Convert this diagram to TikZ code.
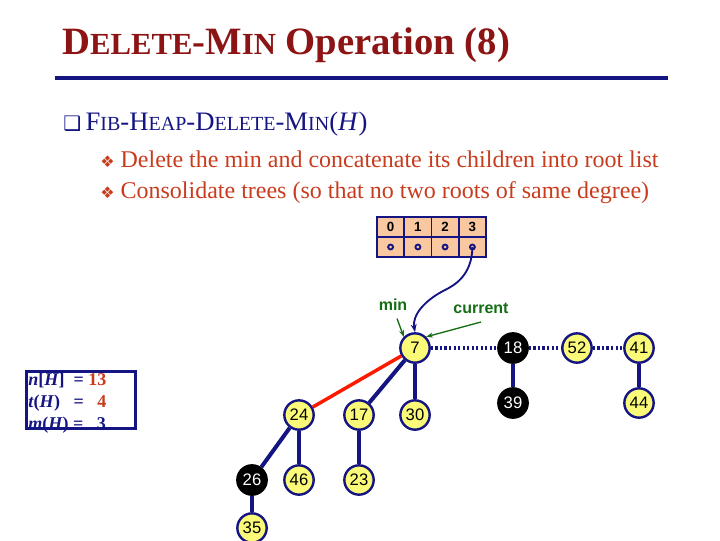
\documentclass[tikz,border=0pt]{standalone}
\usepackage{fontspec}
\setmainfont{Liberation Serif}
\setsansfont{Liberation Sans}
\newfontfamily\dvs{DejaVu Sans}
\usetikzlibrary{arrows.meta}
\definecolor{navy}{RGB}{20,20,130}
\definecolor{dred}{RGB}{140,20,20}
\definecolor{tred}{RGB}{200,60,30}
\definecolor{nyel}{RGB}{250,250,120}
\definecolor{cellc}{RGB}{250,200,160}
\definecolor{dgreen}{RGB}{20,110,20}
\newcommand{\sck}[1]{{\fontsize{15pt}{15pt}\selectfont #1}}
\newcommand{\scm}[1]{{\fontsize{23pt}{23pt}\selectfont #1}}
\tikzset{
 hn/.style={circle,draw=navy,line width=1.8pt,fill=nyel,minimum size=22pt,inner sep=0pt,font=\sffamily\fontsize{12.5pt}{12.5pt}\selectfont},
 bn/.style={hn,fill=black,draw=black,text=white},
 tl/.style={navy,line width=3pt},
 rl/.style={navy,line width=2.6pt,dash pattern=on 1.6pt off 1.8pt},
 cell/.style={draw=navy,line width=1.2pt,fill=cellc,minimum width=20.25pt,minimum height=15pt,inner sep=0pt,font=\sffamily\bfseries\fontsize{10pt}{10pt}\selectfont},
 gl/.style={dgreen,font=\sffamily\bfseries\fontsize{12pt}{12pt}\selectfont}
}
\begin{document}
\begin{tikzpicture}[x=0.75pt,y=-0.75pt]
\useasboundingbox (0,0) rectangle (720,540);
\node[anchor=west,dred,font=\bfseries\fontsize{29pt}{29pt}\selectfont,inner sep=0pt] (title) at (62,45) {D\scm{ELETE}-M\scm{IN} Operation (8)};
\draw[navy,line width=3pt] (55,78) -- (668,78);
\node[anchor=west,navy,font=\fontsize{20pt}{20pt}\selectfont,inner sep=0pt] (h1) at (63,124) {{\dvs\fontsize{15pt}{15pt}\selectfont ❑}\,F\sck{IB}-H\sck{EAP}-D\sck{ELETE}-M\sck{IN}(\textit{H})};
\node[anchor=west,tred,font=\fontsize{18pt}{18pt}\selectfont,inner sep=0pt] (i1) at (100,159) {{\dvs\fontsize{12pt}{12pt}\selectfont ❖}\ Delete the min and concatenate its children into root list};
\node[anchor=west,tred,font=\fontsize{18pt}{18pt}\selectfont,inner sep=0pt] (i2) at (100,193) {{\dvs\fontsize{12pt}{12pt}\selectfont ❖}\ Consolidate trees (so that no two roots of same degree)};
% array
\foreach \i/\x in {0/390.6,1/417.9,2/445.1,3/472.4}{
 \node[cell] (c\i) at (\x,227) {\i};
 \node[cell] (d\i) at (\x,247) {};
 \fill[navy] (d\i) circle (2.6pt);
 \fill[cellc] (d\i) circle (1.1pt);
}
\draw[navy,line width=1.8pt] (376.9,217) rectangle (486.1,257);
% nodes
\node[hn] (n7) at (415,348) {7};
\node[bn] (n18) at (513,348) {18};
\node[hn] (n52) at (577,348) {52};
\node[hn] (n41) at (639,348) {41};
\node[bn] (n39) at (513,403) {39};
\node[hn] (n44) at (639,403) {44};
\node[hn] (n24) at (299,415) {24};
\node[hn] (n17) at (359,415) {17};
\node[hn] (n30) at (415,415) {30};
\node[bn] (n26) at (252,480) {26};
\node[hn] (n46) at (299,480) {46};
\node[hn] (n23) at (359,480) {23};
\node[hn] (n35) at (252,528) {35};
\draw[red!80!orange,line width=2.6pt] (n7) -- (n24);
\draw[tl] (n7) -- (n17);
\draw[tl] (n7) -- (n30);
\draw[tl] (n18) -- (n39);
\draw[tl] (n41) -- (n44);
\draw[tl] (n24) -- (n26);
\draw[tl] (n24) -- (n46);
\draw[tl] (n17) -- (n23);
\draw[tl] (n26) -- (n35);
\draw[rl] (n7) -- (n18);
\draw[rl] (n18) -- (n52);
\draw[rl] (n52) -- (n41);
% curve pointer
\draw[navy,line width=1.4pt,-{Stealth[length=6pt]}] (d3.center) .. controls (472,275) and (455,285) .. (445,290) .. controls (425,300) and (412,315) .. (n7.north);
% labels
\node[gl] (lmin) at (393,305) {min};
\node[gl] (lcur) at (481,308) {current};
\draw[dgreen,line width=1pt,-{Stealth[length=5pt]}] (lmin.south) ++(4,3) -- (n7.north west);
\draw[dgreen,line width=1pt,-{Stealth[length=5pt]}] (lcur.south) ++(0,4) -- (n7.north east);
% info box
\node[draw=navy,line width=2pt,anchor=north west,minimum width=81.75pt,minimum height=42.75pt,inner sep=0pt] (box) at (25,370) {};
\node[anchor=north west,align=left,font=\bfseries\fontsize{13.5pt}{16.5pt}\selectfont,navy,inner sep=0pt] (bt) at (28,373)
 {\textit{n}[\textit{H}] \ = \textcolor{tred}{13}\\ \textit{t}(\textit{H}) \ \ = \ \ \textcolor{tred}{4}\\ \textit{m}(\textit{H}) = \ \ 3};
\end{tikzpicture}
\end{document}
